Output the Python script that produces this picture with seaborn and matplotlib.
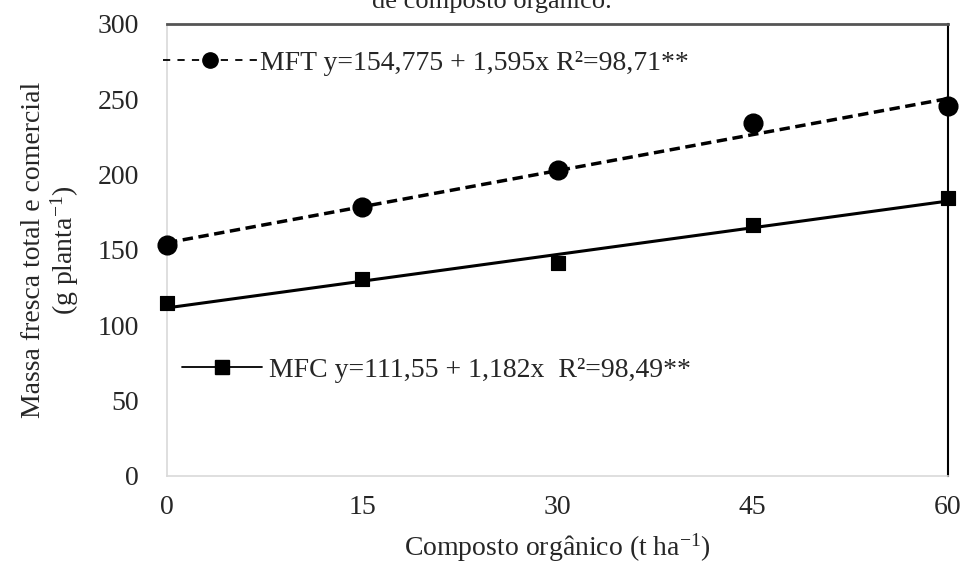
import numpy as np
import matplotlib.pyplot as plt
from matplotlib.lines import Line2D
import pandas as pd
import seaborn as sns

# data
doses = [0, 15, 30, 45, 60]
mft = [153, 178.5, 203, 234, 245.5]
mfc = [114.5, 130.5, 141.5, 166.5, 184.5]

# fitted equations shown on the chart
mft_coef = (154.775, 1.595)
mfc_coef = (111.55, 1.182)
mft_label = "MFT y=154,775 + 1,595x R\u00b2=98,71**"
mfc_label = "MFC y=111,55 + 1,182x  R\u00b2=98,49**"

sns.set_theme(style="white")
plt.rcParams['font.family'] = ['Liberation Serif', 'DejaVu Serif']
plt.rcParams['mathtext.fontset'] = 'custom'
plt.rcParams['mathtext.rm'] = 'Liberation Serif'

fs = 20
fig = plt.figure(figsize=(9.67, 5.70), dpi=100)
ax = fig.add_axes([0.1727, 0.165, 0.8077, 0.793])

df = pd.DataFrame({"dose": doses, "MFT": mft, "MFC": mfc})
xfit = np.array([doses[0], doses[-1]])
fit = pd.DataFrame({"dose": xfit,
                    "MFT": mft_coef[0] + mft_coef[1]*xfit,
                    "MFC": mfc_coef[0] + mfc_coef[1]*xfit})

sns.lineplot(data=fit, x="dose", y="MFT", ax=ax, color="black", lw=2.5,
             linestyle=(0, (3, 1.6)))
sns.lineplot(data=fit, x="dose", y="MFC", ax=ax, color="black", lw=2.2)
sns.scatterplot(data=df, x="dose", y="MFT", ax=ax, color="black", marker="o",
                s=180, edgecolor="black", zorder=5, clip_on=False)
sns.scatterplot(data=df, x="dose", y="MFC", ax=ax, color="black", marker="s",
                s=105, edgecolor="black", zorder=5, clip_on=False)

ax.set_xlim(0, 60)
ax.set_ylim(0, 300)
ax.set_xticks(doses)
ax.set_yticks(range(0, 301, 50))
ax.tick_params(axis="x", length=0, pad=14, labelsize=fs, colors="#262626")
ax.tick_params(axis="y", length=0, pad=20, labelsize=fs, colors="#262626")

ax.spines["left"].set_color("#d9d9d9")
ax.spines["bottom"].set_color("#d9d9d9")
ax.spines["left"].set_linewidth(1.2)
ax.spines["bottom"].set_linewidth(1.2)
ax.spines["top"].set_color("#555555")
ax.spines["top"].set_linewidth(2)
ax.spines["right"].set_color("black")
ax.spines["right"].set_linewidth(1.5)

sup = r"$\mathregular{^{-1}}$"
ax.set_xlabel("Composto org\u00e2nico (t ha" + sup + ")", fontsize=fs,
              labelpad=8, color="#262626")
ax.set_ylabel("Massa fresca total e comercial\n(g planta" + sup + ")", fontsize=fs,
              labelpad=12, linespacing=1.1, color="#262626")

h1 = Line2D([], [], color="black", lw=1.3, linestyle=(0, (4, 4)), marker="o",
            markersize=11)
h2 = Line2D([], [], color="black", lw=1.3, marker="s", markersize=10)
leg1 = ax.legend([h1], [mft_label], loc="center left", bbox_to_anchor=(-0.005, 0.914),
                 frameon=False, fontsize=fs, handlelength=3.4, handletextpad=0.1,
                 borderaxespad=0, borderpad=0)
ax.add_artist(leg1)
ax.legend([h2], [mfc_label], loc="center left", bbox_to_anchor=(0.019, 0.234),
          frameon=False, fontsize=fs, handlelength=2.9, handletextpad=0.25,
          borderaxespad=0, borderpad=0)

# caption line cut off at the top of the image
fig.text(0.509, 0.986, "de composto org\u00e2nico.", ha="center", va="baseline",
         fontsize=19)

fig.savefig("out.png", dpi=100)
